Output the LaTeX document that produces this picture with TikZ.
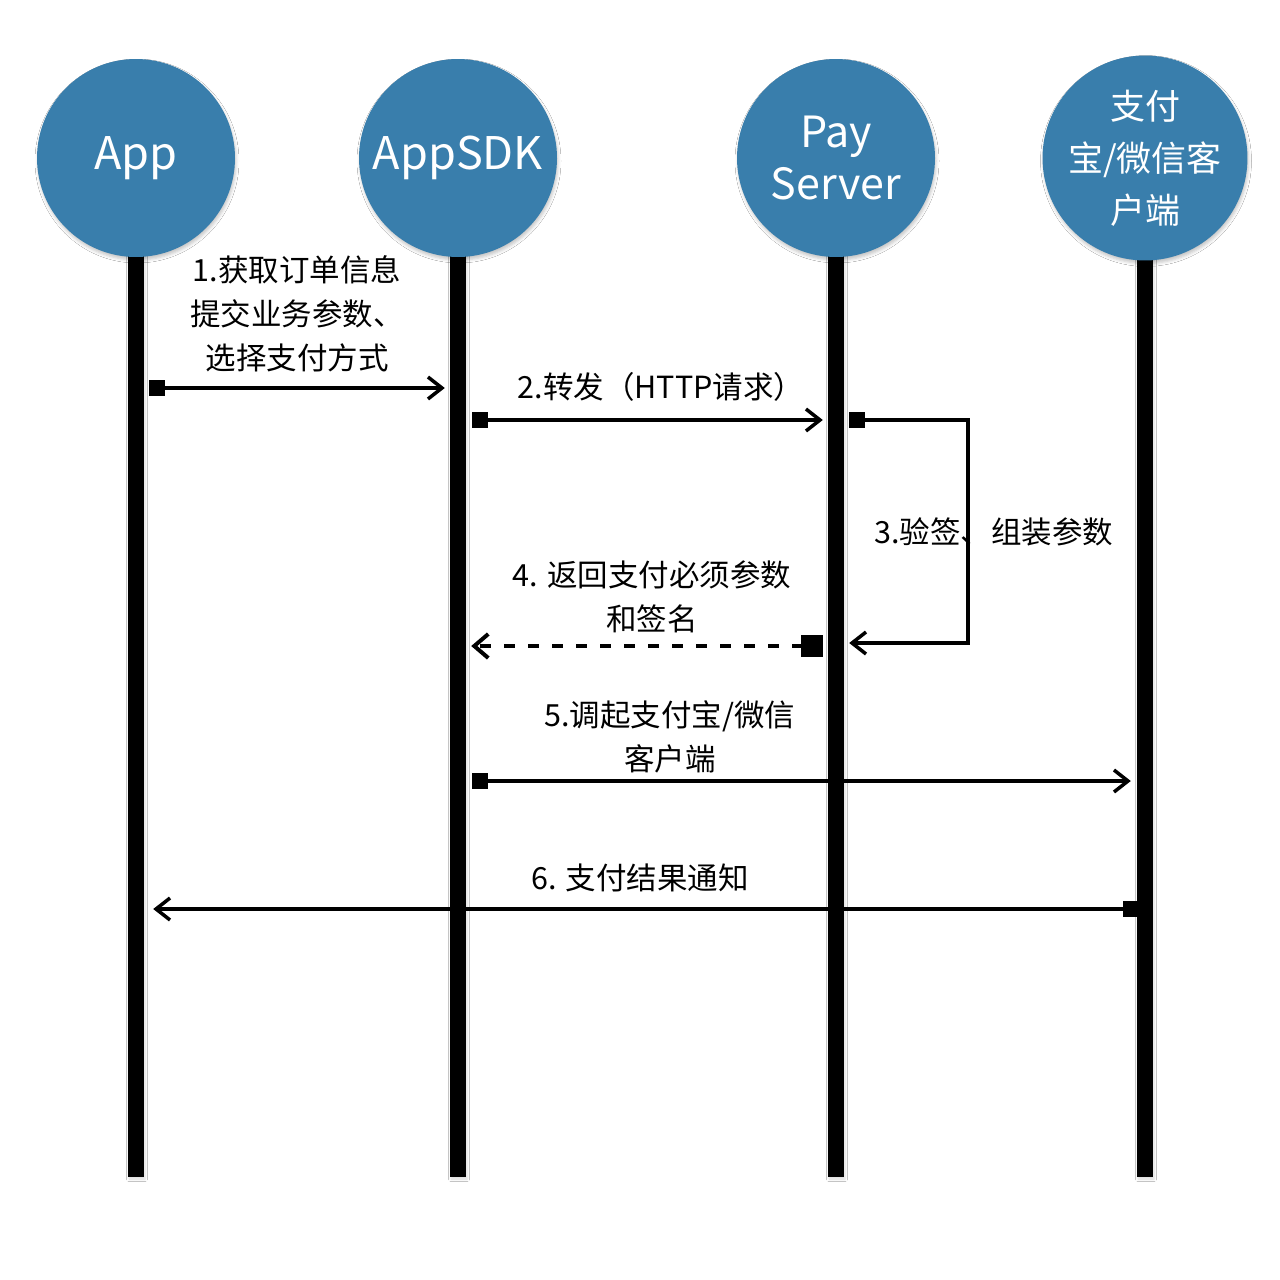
\documentclass[tikz,border=0pt]{standalone}
\usepackage{fontspec}
\setmainfont{Noto Sans CJK SC}
\usetikzlibrary{arrows.meta,shadows.blur}
\definecolor{actorblue}{RGB}{57,126,172}
\tikzset{
  actor/.style={circle, fill=actorblue, minimum size=198pt, inner sep=0pt, text=white, align=center,
    blur shadow={shadow xshift=1pt, shadow yshift=-3pt, shadow blur radius=3pt, shadow opacity=22}},
  lifeline/.style={rectangle, fill=black, minimum width=16pt, minimum height=922pt, inner sep=0pt,
    blur shadow={shadow xshift=1pt, shadow yshift=-2pt, shadow blur radius=2.5pt, shadow opacity=15}},
  msg/.style={line width=4pt, line join=miter,
    {Square[length=16pt,width=16pt]}-{Straight Barb[length=14pt,width=22pt,line width=3.5pt]}},
  bigsq/.style={{Square[length=22pt,width=22pt]}-{Straight Barb[length=14pt,width=24pt,line width=4pt]}},
  lbl/.style={font=\fontsize{30.5pt}{44pt}\selectfont, align=center, inner sep=0pt},
  latinname/.style={font=\fontsize{45pt}{52pt}\selectfont},
  cjkname/.style={font=\fontsize{35pt}{52pt}\selectfont},
}
\begin{document}
\begin{tikzpicture}[x=1pt,y=-1pt]
\useasboundingbox (0,0) rectangle (1280,1280);
\fill[white] (0,0) rectangle (1280,1280);

% lifelines
\node[lifeline] (L1) at (136,716) {};
\node[lifeline] (L2) at (458,716) {};
\node[lifeline] (L3) at (836,716) {};
\node[lifeline] (L4) at (1145,716) {};

% actors
\node[actor, latinname] (A1) at (136,158) {App};
\node[actor, latinname] (A2) at (458,158) {AppSDK};
\node[actor, font=\fontsize{43pt}{52pt}\selectfont] (A3) at (836,158) {Pay\\Server};
\node[actor, cjkname] (A4) at (1145,158) {支付\\宝/微信客\\户端};

% message heights
\coordinate (y1) at (0,388);
\coordinate (y2) at (0,420);
\coordinate (y3) at (0,643);
\coordinate (y4) at (0,646);
\coordinate (y5) at (0,781);
\coordinate (y6) at (0,909);
\coordinate (loopc) at (968,643);

% messages
\draw[msg] ([xshift=5pt]L1.east |- y1) -- ([xshift=-5pt]L2.west |- y1);
\draw[msg] ([xshift=6pt]L2.east |- y2) -- ([xshift=-5pt]L3.west |- y2);
\draw[msg] ([xshift=5pt]L3.east |- y2) -| (loopc) -- ([xshift=5pt]L3.east |- y3);
\draw[msg, bigsq, dash pattern=on 11pt off 13pt] ([xshift=-5pt]L3.west |- y4) -- ([xshift=5pt]L2.east |- y4);
\draw[msg] ([xshift=6pt]L2.east |- y5) -- ([xshift=-6pt]L4.west |- y5);
\draw[msg] ([xshift=2pt]L4.west |- y6) -- ([xshift=9pt]L1.east |- y6);

% labels
\node[lbl] (t1) at (297,314) {1.获取订单信息\\提交业务参数、\\选择支付方式};
\node[lbl] (t2) at (661,387) {2.转发（HTTP请求）};
\node[lbl] (t3) at (994,532) {3.验签、组装参数};
\node[lbl] (t4) at (652,597) {4. 返回支付必须参数\\和签名};
\node[lbl] (t5) at (670,737) {5.调起支付宝/微信\\客户端};
\node[lbl] (t6) at (640,878) {6. 支付结果通知};
\end{tikzpicture}
\end{document}
